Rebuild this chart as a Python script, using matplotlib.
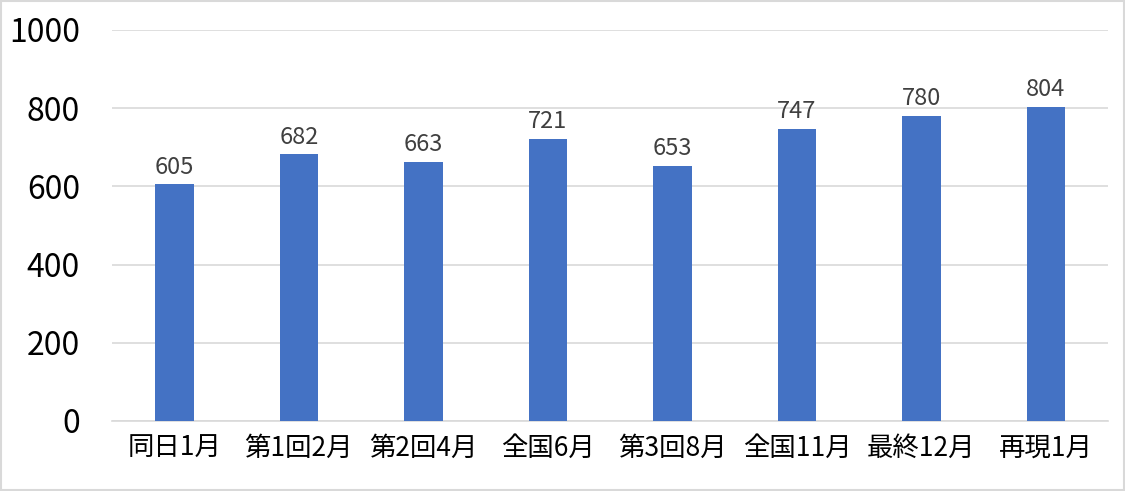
import matplotlib.pyplot as plt
import matplotlib.patches as patches

plt.rcParams['font.family'] = ['Noto Sans CJK JP', 'DejaVu Sans']

categories = ['同日1月', '第1回2月', '第2回4月', '全国6月', '第3回8月', '全国11月', '最終12月', '再現1月']
values = [605, 682, 663, 721, 653, 747, 780, 804]
yticks = [0, 200, 400, 600, 800, 1000]

fig = plt.figure(figsize=(11.25, 4.91), dpi=100)
ax = fig.add_axes([0.0996, 0.1426, 0.8854, 0.7964])

x = range(len(categories))
bars = ax.bar(x, values, width=0.31, color='#4472C4', zorder=3)
ax.bar_label(bars, labels=[str(v) for v in values], padding=4, fontsize=17, color='#404040')

ax.set_xlim(-0.5, len(categories) - 0.5)
ax.set_ylim(0, 1000)
ax.set_yticks(yticks)
ax.set_yticklabels([str(t) for t in yticks], fontsize=23)
ax.set_xticks(list(x))
ax.set_xticklabels(categories, fontsize=19)
ax.tick_params(axis='both', length=0, colors='black')
ax.tick_params(axis='y', pad=23)
ax.tick_params(axis='x', pad=10)
ax.grid(axis='y', color='#D9D9D9', linewidth=1.2, zorder=0)
for s in ['top', 'right', 'left']:
    ax.spines[s].set_visible(False)
ax.spines['bottom'].set_color('#D9D9D9')
ax.spines['bottom'].set_linewidth(1.2)

fig.patches.append(patches.Rectangle((0.001, 0.003), 0.998, 0.994, transform=fig.transFigure,
                                     fill=False, edgecolor='#D9D9D9', linewidth=1.5))

fig.savefig('out.png', dpi=100)
